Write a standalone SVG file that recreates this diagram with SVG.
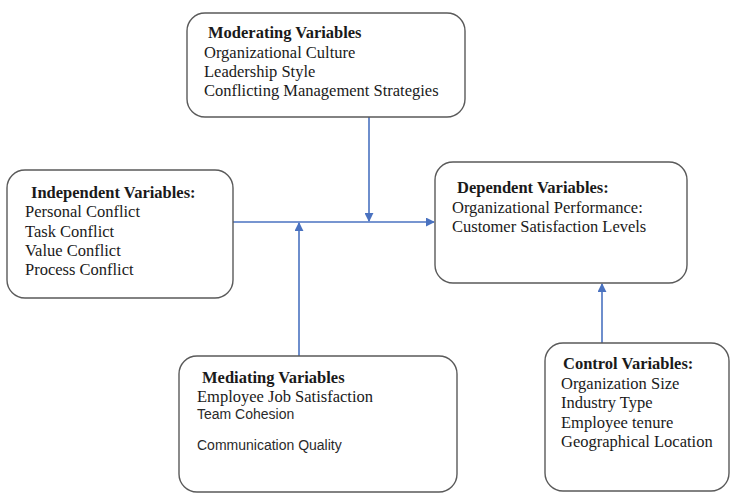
<svg xmlns="http://www.w3.org/2000/svg" width="731" height="495" viewBox="0 0 731 495">
  <defs>
    <style>
      .box { fill: #ffffff; stroke: #5a5a5a; stroke-width: 1.4; }
      .title { font-family: "Liberation Serif", "Times New Roman", serif; font-size: 16.5px; font-weight: bold; fill: #1a1a1a; }
      .item { font-family: "Liberation Serif", "Times New Roman", serif; font-size: 16.5px; fill: #1a1a1a; }
      .sans { font-family: "Liberation Sans", Arial, sans-serif; font-size: 14px; fill: #2a2a2a; }
      .link { fill: none; stroke: #4a72c0; stroke-width: 1.6; }
    </style>
    <marker id="arrow" viewBox="0 0 10 10" refX="9" refY="5" markerWidth="9" markerHeight="9" markerUnits="userSpaceOnUse" orient="auto">
      <path d="M0,0 L10,5 L0,10 Z" fill="#4a72c0"/>
    </marker>
  </defs>

  <g id="connectors">
    <path class="link" d="M233,222 H434" marker-end="url(#arrow)"/>
    <path class="link" d="M369,117 V221" marker-end="url(#arrow)"/>
    <path class="link" d="M299,356 V223" marker-end="url(#arrow)"/>
    <path class="link" d="M602,343 V284" marker-end="url(#arrow)"/>
  </g>

  <g id="moderating">
    <rect class="box" x="187" y="13" width="278" height="104" rx="18"/>
    <text class="title" x="208" y="38">Moderating Variables</text>
    <text class="item" x="204" y="58">Organizational Culture</text>
    <text class="item" x="204" y="77">Leadership Style</text>
    <text class="item" x="204" y="96">Conflicting Management Strategies</text>
  </g>

  <g id="independent">
    <rect class="box" x="7" y="170" width="226" height="128" rx="18"/>
    <text class="title" x="31" y="198">Independent Variables:</text>
    <text class="item" x="25" y="217">Personal Conflict</text>
    <text class="item" x="25" y="237">Task Conflict</text>
    <text class="item" x="25" y="256">Value Conflict</text>
    <text class="item" x="25" y="275">Process Conflict</text>
  </g>

  <g id="dependent">
    <rect class="box" x="435" y="162" width="252" height="121" rx="18"/>
    <text class="title" x="457" y="193">Dependent Variables:</text>
    <text class="item" x="452" y="213">Organizational Performance:</text>
    <text class="item" x="452" y="232">Customer Satisfaction Levels</text>
  </g>

  <g id="mediating">
    <rect class="box" x="179" y="356" width="278" height="136" rx="18"/>
    <text class="title" x="202" y="383">Mediating Variables</text>
    <text class="item" x="197" y="402">Employee Job Satisfaction</text>
    <text class="sans" x="197" y="419">Team Cohesion</text>
    <text class="sans" x="197" y="450">Communication Quality</text>
  </g>

  <g id="control">
    <rect class="box" x="545" y="343" width="184" height="148" rx="18"/>
    <text class="title" x="563" y="369">Control Variables:</text>
    <text class="item" x="561" y="389">Organization Size</text>
    <text class="item" x="561" y="408">Industry Type</text>
    <text class="item" x="561" y="428">Employee tenure</text>
    <text class="item" x="561" y="447">Geographical Location</text>
  </g>
</svg>
